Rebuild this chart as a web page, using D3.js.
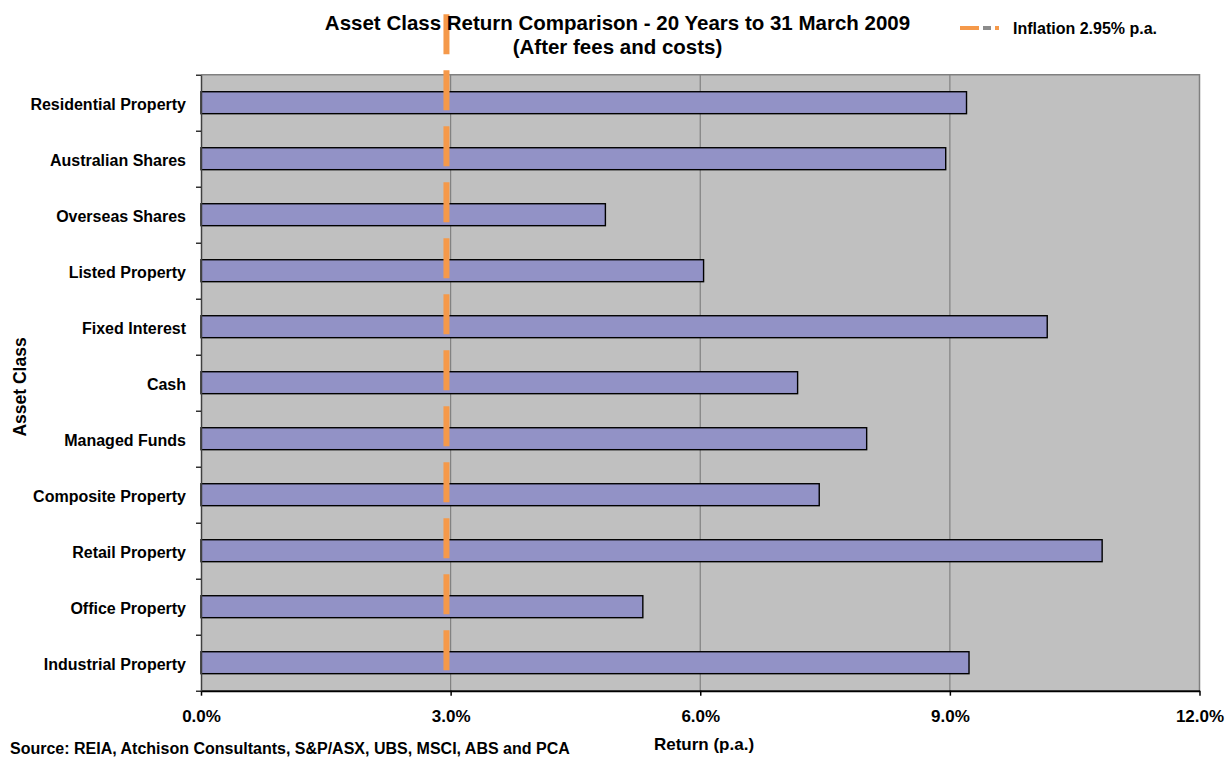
<!DOCTYPE html>
<html><head><meta charset="utf-8">
<script src="https://cdn.jsdelivr.net/npm/d3@7"></script>
<style>
html,body{margin:0;padding:0;background:#fff;overflow:hidden}
svg{display:block}
text{font-family:"Liberation Sans",Arial,sans-serif;font-weight:bold;fill:#000}
</style>
</head><body>
<svg id="chart" width="1227" height="758"></svg>
<script>
const categories = ["Residential Property","Australian Shares","Overseas Shares","Listed Property","Fixed Interest","Cash","Managed Funds","Composite Property","Retail Property","Office Property","Industrial Property"];
const returns = [9.20, 8.95, 4.86, 6.04, 10.17, 7.17, 8.00, 7.43, 10.83, 5.31, 9.23];
const inflationRate = 2.95;
const inflationLabel = "Inflation 2.95% p.a.";
const xTickValues = [0, 3, 6, 9, 12];
const xTickLabels = ["0.0%", "3.0%", "6.0%", "9.0%", "12.0%"];
const titleLines = ["Asset Class Return Comparison - 20 Years to 31 March 2009", "(After fees and costs)"];
const xAxisTitle = "Return (p.a.)";
const yAxisTitle = "Asset Class";
const sourceText = "Source: REIA, Atchison Consultants, S&P/ASX, UBS, MSCI, ABS and PCA";

const svg = d3.select("#chart");
const plot = {left: 201, right: 1199.5, top: 74.7, bottom: 690.7};

const x = d3.scaleLinear().domain([0, 12]).range([plot.left, plot.right]);
const y = d3.scaleBand().domain(categories).range([plot.top, plot.bottom]).paddingInner(0.608).paddingOuter(0.304);
const yIdx = d3.scaleLinear().domain([0, categories.length]).range([plot.top, plot.bottom]);
const step = y.step();

// plot background
svg.append("rect").attr("x", plot.left).attr("y", plot.top)
  .attr("width", plot.right - plot.left).attr("height", plot.bottom - plot.top)
  .attr("fill", "#C0C0C0");

// gridlines
svg.append("g").selectAll("line").data(xTickValues.slice(1, -1)).join("line")
  .attr("x1", d => x(d)).attr("x2", d => x(d))
  .attr("y1", plot.top).attr("y2", plot.bottom)
  .attr("stroke", "#808080").attr("stroke-width", 1.2);

// top and right border
svg.append("path")
  .attr("d", `M${plot.left},${plot.top}H${plot.right}V${plot.bottom}`)
  .attr("fill", "none").attr("stroke", "#808080").attr("stroke-width", 1.5);

// bars
svg.append("g").selectAll("rect").data(categories).join("rect")
  .attr("x", x(0))
  .attr("y", d => y(d))
  .attr("width", (d, i) => x(returns[i]) - x(0))
  .attr("height", y.bandwidth())
  .attr("fill", "#9292C6")
  .attr("stroke", "#000").attr("stroke-width", 1.4);

// inflation line
svg.append("line")
  .attr("x1", x(inflationRate)).attr("x2", x(inflationRate))
  .attr("y1", plot.top - step * 1.08).attr("y2", plot.bottom - step * 0.36)
  .attr("stroke", "#F5994A").attr("stroke-width", 6)
  .attr("stroke-dasharray", "40,16");

// bottom axis
const xAxis = svg.append("g").attr("transform", `translate(0,${plot.bottom})`)
  .call(d3.axisBottom(x).tickValues(xTickValues).tickFormat((d, i) => xTickLabels[i])
    .tickSizeInner(5).tickSizeOuter(0).tickPadding(14));
xAxis.select(".domain").attr("stroke", "#000").attr("stroke-width", 2);
xAxis.selectAll(".tick line").attr("stroke", "#000").attr("stroke-width", 1.5);
xAxis.selectAll(".tick text").attr("font-size", 17).attr("font-family", null).attr("fill", "#000");

// left axis
const yAxis = svg.append("g").attr("transform", `translate(${plot.left},0)`)
  .call(d3.axisLeft(yIdx).tickValues(d3.range(categories.length + 1)).tickFormat("")
    .tickSizeInner(5).tickSizeOuter(0));
yAxis.select(".domain").attr("stroke", "#404040").attr("stroke-width", 1.5);
yAxis.selectAll(".tick line").attr("stroke", "#000").attr("stroke-width", 1.2);

// category labels
svg.append("g").selectAll("text").data(categories).join("text")
  .attr("x", plot.left - 15)
  .attr("y", d => y(d) + y.bandwidth() / 2 + 1.5)
  .attr("dy", "0.36em")
  .attr("text-anchor", "end")
  .attr("font-size", 16)
  .text(d => d);

// title
svg.append("g").selectAll("text").data(titleLines).join("text")
  .attr("x", 617.5)
  .attr("y", (d, i) => 30 + i * 23.5)
  .attr("text-anchor", "middle")
  .attr("font-size", 20.5)
  .text(d => d);

// legend
const legend = svg.append("g");
legend.append("line").attr("x1", 960).attr("x2", 979).attr("y1", 28).attr("y2", 28)
  .attr("stroke", "#F5994A").attr("stroke-width", 4);
legend.append("line").attr("x1", 983).attr("x2", 991).attr("y1", 28).attr("y2", 28)
  .attr("stroke", "#8C8C8C").attr("stroke-width", 4);
legend.append("line").attr("x1", 995).attr("x2", 999).attr("y1", 28).attr("y2", 28)
  .attr("stroke", "#F5994A").attr("stroke-width", 4);
legend.append("text").attr("x", 1013).attr("y", 34).attr("font-size", 16)
  .text(inflationLabel);

// axis titles
svg.append("text").attr("x", 704).attr("y", 750).attr("text-anchor", "middle")
  .attr("font-size", 17).text(xAxisTitle);
svg.append("text").attr("transform", "translate(26,387) rotate(-90)")
  .attr("text-anchor", "middle").attr("font-size", 17.5).text(yAxisTitle);

// source (kept fully inside the picture)
svg.append("text").attr("x", 10).attr("y", 754).attr("font-size", 16).text(sourceText);
</script>
</body></html>
